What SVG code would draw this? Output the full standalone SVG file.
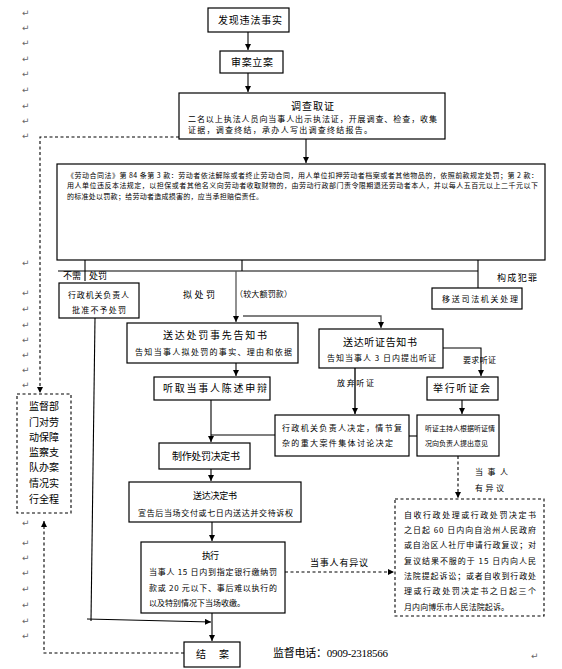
<svg xmlns="http://www.w3.org/2000/svg" width="562" height="669" viewBox="0 0 562 669">
<style>
text{font-family:"Noto Sans CJK SC","Liberation Sans",sans-serif;fill:#000}
.bx{fill:#fff;stroke:#000;stroke-width:1.2}
.dbx{fill:#fff;stroke:#000;stroke-width:1.1;stroke-dasharray:3,2.5}
.ln{fill:none;stroke:#000;stroke-width:1.1}
.gl{fill:none;stroke:#555;stroke-width:1.3}
.dl{fill:none;stroke:#000;stroke-width:1.1;stroke-dasharray:3,2.5}
.rt{font-family:"DejaVu Sans",sans-serif;font-size:9px;fill:#666}
.t10{font-size:10px}
.t9{font-size:9px}
.t8{font-size:8px}
.t7{font-size:7px}
</style>
<defs>
<marker id="ah" viewBox="0 0 10 10" refX="10" refY="5" markerWidth="6" markerHeight="6" orient="auto" markerUnits="userSpaceOnUse"><path d="M0,0 L10,5 L0,10 z" fill="#000"/></marker>
</defs>
<g id="marks">
<text class="rt" x="22" y="16">↵</text><text class="rt" x="22" y="31">↵</text><text class="rt" x="22" y="46">↵</text><text class="rt" x="22" y="62">↵</text><text class="rt" x="22" y="77">↵</text><text class="rt" x="22" y="93">↵</text><text class="rt" x="22" y="109">↵</text><text class="rt" x="22" y="124">↵</text><text class="rt" x="22" y="139">↵</text>
<text class="rt" x="22" y="266">↵</text><text class="rt" x="22" y="296">↵</text><text class="rt" x="22" y="312">↵</text><text class="rt" x="22" y="328">↵</text><text class="rt" x="22" y="343">↵</text><text class="rt" x="22" y="358">↵</text><text class="rt" x="22" y="373">↵</text><text class="rt" x="22" y="388">↵</text>
<text class="rt" x="22" y="526">↵</text><text class="rt" x="22" y="546">↵</text><text class="rt" x="22" y="561">↵</text><text class="rt" x="22" y="576">↵</text><text class="rt" x="22" y="592">↵</text><text class="rt" x="22" y="608">↵</text><text class="rt" x="22" y="624">↵</text><text class="rt" x="22" y="639">↵</text>
<text class="rt" x="530" y="218">↵</text><text class="rt" x="531" y="659">↵</text>
</g>
<g id="connectors">
<path class="ln" d="M248,32 V50" marker-end="url(#ah)"/>
<path class="ln" d="M248,73 V92" marker-end="url(#ah)"/>
<path class="ln" d="M306,139 V163" marker-end="url(#ah)"/>
<path class="dl" d="M179,137 H40 V393" marker-end="url(#ah)"/>
<path class="ln" d="M85,260 V281 M242,260 V271 M478,260 V288 M58,271 H478"/>
<path class="gl" d="M236,271 V322" marker-end="url(#ah)"/>
<path class="gl" d="M243,316 H381 V328" marker-end="url(#ah)"/>
<path class="ln" d="M236,363 V376" marker-end="url(#ah)"/>
<path class="ln" d="M211,400 V442" marker-end="url(#ah)"/>
<path class="ln" d="M275,435 H211"/>
<path class="ln" d="M417,436 H409"/>
<path class="gl" style="stroke-width:2" d="M355,368 V414" marker-end="url(#ah)"/>
<path class="ln" d="M443,348 H481 V376" marker-end="url(#ah)"/>
<path class="ln" d="M462,400 V414" marker-end="url(#ah)"/>
<path class="dl" d="M458,456 V498" marker-end="url(#ah)"/>
<path class="ln" d="M211,469 V481" marker-end="url(#ah)"/>
<path class="ln" d="M212,522 V541" marker-end="url(#ah)"/>
<path class="dl" d="M285,572 H394" marker-end="url(#ah)"/>
<path class="ln" d="M95,318 L91,621"/>
<path class="ln" d="M87,619 L211,622" marker-end="url(#ah)"/>
<path class="ln" d="M212,613 V641" marker-end="url(#ah)"/>
<path class="dl" d="M184,653 H44 V521" marker-end="url(#ah)"/>
</g>
<g id="n1"><rect class="bx" x="208" y="8" width="81" height="24"/><text class="t10" x="218" y="24" textLength="64">发现违法事实</text></g>
<g id="n2"><rect class="bx" x="220" y="51" width="63" height="22"/><text class="t10" x="231" y="66" textLength="42">审案立案</text></g>
<g id="n3"><rect class="bx" x="179" y="93" width="266" height="46"/>
<text class="t10" x="291" y="110" textLength="43">调查取证</text>
<text class="t8" x="188" y="122" textLength="249">二名以上执法人员向当事人出示执法证，开展调查、检查，收集</text>
<text class="t8" x="188" y="133" textLength="184">证据，调查终结，承办人写出调查终结报告。</text></g>
<g id="n4"><rect class="bx" x="57" y="164" width="488" height="96"/>
<text class="t7" x="67" y="178" textLength="471">《劳动合同法》第 84 条第 3 款：劳动者依法解除或者终止劳动合同，用人单位扣押劳动者档案或者其他物品的，依照前款规定处罚；第 2 款：</text>
<text class="t7" x="67" y="188" textLength="471">用人单位违反本法规定，以担保或者其他名义向劳动者收取财物的，由劳动行政部门责令限期退还劳动者本人，并以每人五百元以上二千元以下</text>
<text class="t7" x="67" y="199" textLength="196">的标准处以罚款；给劳动者造成损害的，应当承担赔偿责任。</text></g>
<g id="labels">
<text class="t9" x="63" y="279">不需</text><text class="t9" x="89" y="279">处罚</text>
<text class="t9" x="183" y="298" textLength="32">拟处罚</text>
<text class="t8" x="235" y="297" textLength="57">（较大额罚款）</text>
<text class="t9" x="497" y="281" textLength="40">构成犯罪</text>
<text class="t8" x="463" y="363" textLength="33">要求听证</text>
<text class="t8" x="337" y="386" textLength="37">放弃听证</text>
<text class="t8" x="475" y="475" textLength="33">当事人</text>
<text class="t8" x="475" y="491" textLength="29">有异议</text>
<text class="t9" x="310" y="566" textLength="58">当事人有异议</text>
<text style="font-family:'Liberation Serif','Noto Sans CJK SC',serif;font-size:11px" x="273" y="657" textLength="115">监督电话：0909-2318566</text>
</g>
<g id="n5"><rect class="bx" x="59" y="283" width="80" height="35"/>
<text class="t8" x="68" y="298" textLength="61">行政机关负责人</text>
<text class="t8" x="72" y="313" textLength="54">批准不予处罚</text></g>
<g id="n6"><rect class="bx" x="432" y="288" width="90" height="21"/><text class="t8" x="442" y="302" textLength="76">移送司法机关处理</text></g>
<g id="n7"><rect class="bx" x="127" y="323" width="171" height="40"/>
<text class="t10" x="163" y="339" textLength="104">送达处罚事先告知书</text>
<text class="t8" x="135" y="355" textLength="157">告知当事人拟处罚的事实、理由和依据</text></g>
<g id="n8"><rect class="bx" x="319" y="329" width="124" height="39"/>
<text class="t10" x="343" y="346" textLength="74">送达听证告知书</text>
<text class="t8" x="327" y="361" textLength="109">告知当事人 3 日内提出听证</text></g>
<g id="n9"><rect class="bx" x="154" y="377" width="116" height="23"/><text class="t10" x="163" y="392" textLength="104">听取当事人陈述申辩</text></g>
<g id="n10"><rect class="bx" x="427" y="377" width="71" height="23"/><text class="t10" x="433" y="392" textLength="57">举行听证会</text></g>
<g id="n11"><rect class="bx" x="275" y="415" width="134" height="41"/>
<text class="t8" x="282" y="431" textLength="120">行政机关负责人决定，情节复</text>
<text class="t8" x="282" y="446" textLength="111">杂的重大案件集体讨论决定</text></g>
<g id="n12"><rect class="bx" x="417" y="415" width="82" height="41"/>
<text class="t7" x="425" y="431" textLength="70">听证主持人根据听证情</text>
<text class="t7" x="425" y="446" textLength="63">况向负责人提出意见</text></g>
<g id="n13"><rect class="bx" x="159" y="443" width="91" height="26"/><text class="t10" x="172" y="460" textLength="68">制作处罚决定书</text></g>
<g id="n14"><rect class="bx" x="129" y="482" width="172" height="40"/>
<text class="t9" x="193" y="499" textLength="44">送达决定书</text>
<text class="t8" x="138" y="516" textLength="155">宣告后当场交付或七日内送达并交待诉权</text></g>
<g id="n15"><rect class="bx" x="141" y="542" width="144" height="71"/>
<text class="t9" x="202" y="559" textLength="17">执行</text>
<text class="t8" x="149" y="575" textLength="128">当事人 15 日内到指定银行缴纳罚</text>
<text class="t8" x="149" y="591" textLength="128">款或 20 元以下、事后难以执行的</text>
<text class="t8" x="149" y="606" textLength="96">以及特别情况下当场收缴。</text></g>
<g id="n16"><rect class="bx" x="184" y="642" width="56" height="25"/><text class="t10" x="196" y="658" textLength="33">结  案</text></g>
<g id="n17"><rect class="dbx" x="17" y="394" width="54" height="119"/>
<text class="t10" x="29" y="410" textLength="30">监督部</text>
<text class="t10" x="29" y="426" textLength="30">门对劳</text>
<text class="t10" x="29" y="441" textLength="30">动保障</text>
<text class="t10" x="29" y="456" textLength="30">监察支</text>
<text class="t10" x="29" y="471" textLength="30">队办案</text>
<text class="t10" x="29" y="487" textLength="30">情况实</text>
<text class="t10" x="29" y="503" textLength="30">行全程</text></g>
<g id="n18"><rect class="dbx" x="395" y="499" width="149" height="117"/>
<text class="t8" x="404" y="518" textLength="132">自收行政处理或行政处罚决定书</text>
<text class="t8" x="404" y="533" textLength="132">之日起 60 日内向自治州人民政府</text>
<text class="t8" x="404" y="548" textLength="132">或自治区人社厅申请行政复议；对</text>
<text class="t8" x="404" y="564" textLength="132">复议结果不服的于 15 日内向人民</text>
<text class="t8" x="404" y="579" textLength="132">法院提起诉讼；或者自收到行政处</text>
<text class="t8" x="404" y="594" textLength="132">理或行政处罚决定书之日起三个</text>
<text class="t8" x="404" y="610" textLength="105">月内向博乐市人民法院起诉。</text></g>
</svg>
